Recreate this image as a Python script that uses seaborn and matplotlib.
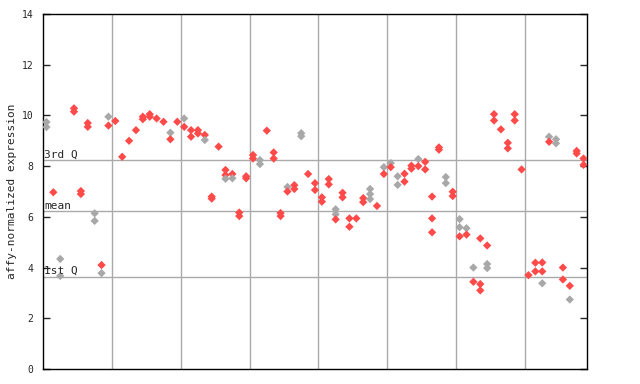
import matplotlib
matplotlib.use("Agg")
import matplotlib.pyplot as plt
import seaborn as sns
import pandas as pd

sns.set_style("white")
plt.rcParams['font.family'] = ['DejaVu Sans Mono', 'DejaVu Sans']

# sample index, value, colour class (r = red, g = grey)
sample_idx = [0, 0, 1, 2, 2, 4, 4, 5, 5, 6, 6, 7, 7, 8, 8, 9, 9,
              10, 11, 12, 13, 14, 14, 15, 15, 16, 17, 18, 18, 19,
              20, 20, 21, 21, 22, 22, 23, 23, 24, 24, 25, 26, 26, 26, 27, 27, 28, 28, 29, 29,
              30, 30, 31, 31, 32, 33, 33, 34, 34, 35, 35, 36, 36, 37, 37, 38, 39, 39,
              40, 40, 41, 41, 42, 42, 42, 43, 43, 44, 44, 45, 46, 46, 47, 47, 47, 48, 49, 49,
              50, 50, 51, 51, 52, 52, 53, 53, 54, 54, 55, 55, 56, 56, 56, 57, 57, 58, 58, 59, 59,
              60, 60, 60, 61, 61, 62, 62, 63, 63, 63, 64, 64, 64, 65, 65, 66, 67, 67, 68, 68, 69,
              70, 71, 71, 72, 72, 72, 73, 73, 74, 74, 75, 75, 76, 76, 77, 77, 78, 78]
values = [9.74, 9.54, 6.97, 4.34, 3.67, 10.28, 10.15, 7.02, 6.90, 9.70, 9.55, 6.14, 5.84, 4.10, 3.78, 9.95, 9.60,
          9.78, 8.37, 9.00, 9.42, 9.95, 9.85, 10.05, 9.95, 9.88, 9.75, 9.32, 9.06, 9.75,
          9.88, 9.55, 9.42, 9.16, 9.42, 9.29, 9.23, 9.03, 6.80, 6.72, 8.77, 7.85, 7.65, 7.50, 7.69, 7.52, 6.17, 6.03, 7.60, 7.52,
          8.44, 8.30, 8.24, 8.08, 9.40, 8.54, 8.30, 6.15, 6.03, 7.18, 7.00, 7.25, 7.10, 9.30, 9.18, 7.69, 7.33, 7.06,
          6.77, 6.60, 7.49, 7.28, 6.30, 6.10, 5.90, 6.95, 6.77, 5.94, 5.61, 5.94, 6.74, 6.58, 7.10, 6.90, 6.70, 6.43, 7.96, 7.69,
          8.12, 7.96, 7.60, 7.26, 7.70, 7.39, 8.02, 7.90, 8.28, 8.00, 8.17, 7.87, 6.80, 5.94, 5.39, 8.74, 8.65, 7.57, 7.33, 6.99, 6.82,
          5.91, 5.59, 5.23, 5.55, 5.30, 4.00, 3.44, 5.15, 3.35, 3.10, 4.87, 4.14, 3.98, 10.05, 9.80, 9.45, 8.92, 8.70, 10.05, 9.80, 7.87,
          3.70, 4.19, 3.85, 4.20, 3.85, 3.38, 9.16, 8.96, 9.06, 8.90, 4.00, 3.53, 3.28, 2.74, 8.60, 8.50, 8.30, 8.05]
colour_class = ['g', 'g', 'r', 'g', 'g', 'r', 'r', 'r', 'r', 'r', 'r', 'g', 'g', 'r', 'g', 'g', 'r',
                'r', 'r', 'r', 'r', 'r', 'r', 'r', 'r', 'r', 'r', 'g', 'r', 'r',
                'g', 'r', 'r', 'r', 'r', 'r', 'r', 'g', 'r', 'r', 'r', 'r', 'r', 'g', 'r', 'g', 'r', 'r', 'r', 'r',
                'r', 'r', 'g', 'g', 'r', 'r', 'r', 'r', 'r', 'g', 'r', 'r', 'r', 'g', 'g', 'r', 'r', 'r',
                'r', 'r', 'r', 'r', 'g', 'g', 'r', 'r', 'r', 'r', 'r', 'r', 'r', 'r', 'g', 'g', 'g', 'r', 'g', 'r',
                'g', 'r', 'g', 'g', 'r', 'r', 'r', 'r', 'g', 'r', 'r', 'r', 'r', 'r', 'r', 'r', 'r', 'g', 'g', 'r', 'r',
                'g', 'g', 'r', 'g', 'r', 'g', 'r', 'r', 'r', 'r', 'r', 'g', 'g', 'r', 'r', 'r', 'r', 'r', 'r', 'r', 'r',
                'r', 'r', 'r', 'r', 'r', 'g', 'g', 'r', 'g', 'g', 'r', 'r', 'r', 'g', 'r', 'r', 'r', 'r']

n_samples = 79
group_bounds = [9.5, 19.5, 29.5, 39.5, 49.5, 59.5, 69.5]
q1, mean_v, q3 = 3.63, 6.22, 8.24
y_ticks = [0, 2, 4, 6, 8, 10, 12, 14]

df = pd.DataFrame({"sample": sample_idx, "value": values, "cls": colour_class})

fig = plt.figure(figsize=(6.4, 3.84), dpi=100)
ax = fig.add_axes([43 / 640, 1 - 369 / 384, (587 - 43) / 640, (369 - 14) / 384])

for b in group_bounds:
    ax.axvline(b, color="#aaaaaa", lw=1, zorder=1)
for q in (q1, mean_v, q3):
    ax.axhline(q, color="#aaaaaa", lw=1, zorder=1)

sns.scatterplot(data=df, x="sample", y="value", hue="cls",
                palette={"r": "#ff4a4a", "g": "#a8a8a8"},
                marker="D", s=18, linewidth=0, legend=False, ax=ax, zorder=3)

ax.set_xlim(-0.5, n_samples - 0.5)
ax.set_ylim(0, 14)
ax.set_xticks([])
ax.set_yticks(y_ticks)
ax.set_yticklabels([str(t) for t in y_ticks], fontsize=7)
ax.tick_params(axis="y", direction="in", length=5, width=1, right=True, left=True, pad=7)
ax.set_xlabel("")
ax.set_ylabel("affy-normalized expression", fontsize=8, labelpad=3)
for sp in ax.spines.values():
    sp.set_color("black")
    sp.set_linewidth(1)

trans = ax.get_yaxis_transform()
ax.text(0.002, q3 + 0.03, "3rd Q", fontsize=8, va="bottom", ha="left", zorder=4, transform=trans)
ax.text(0.002, mean_v + 0.03, "mean", fontsize=8, va="bottom", ha="left", zorder=4, transform=trans)
ax.text(0.002, q1 + 0.03, "1st Q", fontsize=8, va="bottom", ha="left", zorder=4, transform=trans)

fig.savefig("out.png", dpi=100)
